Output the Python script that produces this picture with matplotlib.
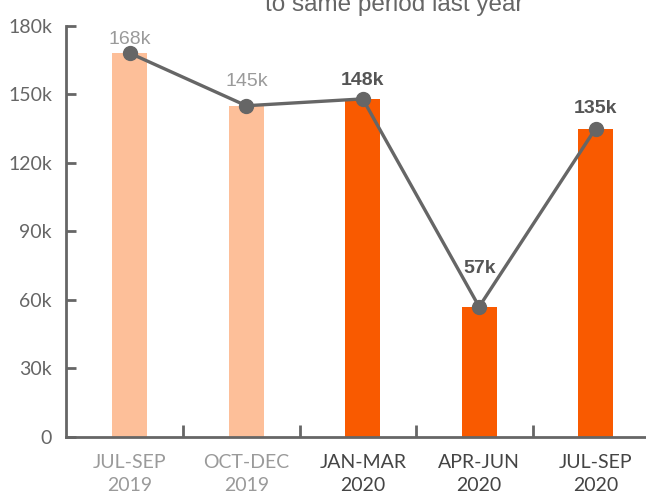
import matplotlib
matplotlib.use("Agg")
import matplotlib.pyplot as plt
import numpy as np

categories = ["JUL-SEP\n2019", "OCT-DEC\n2019", "JAN-MAR\n2020", "APR-JUN\n2020", "JUL-SEP\n2020"]
values = [168, 145, 148, 57, 135]  # thousands
labels = ["168k", "145k", "148k", "57k", "135k"]
y_ticks = [0, 30, 60, 90, 120, 150, 180]
y_tick_labels = ["0", "30k", "60k", "90k", "120k", "150k", "180k"]

bar_colors = ["#FDBF99", "#FDBF99", "#F95A00", "#F95A00", "#F95A00"]
label_colors = ["#9A9A9A", "#9A9A9A", "#555555", "#555555", "#555555"]
label_weights = ["normal", "normal", "bold", "bold", "bold"]
tick_colors = ["#9A9A9A", "#9A9A9A", "#444444", "#444444", "#444444"]
label_offsets = [6.5, 14.4, 10, 24.5, 11]

fig = plt.figure(figsize=(6.46, 4.96), dpi=100)
ax = fig.add_axes([0.102, 0.119, 0.910, 0.829])

x = np.arange(len(categories))
ax.bar(x, values, width=0.3, color=bar_colors, zorder=1)
ax.plot(x, values, color="#666666", lw=2.4, marker="o", markersize=10, zorder=3)

for xi, v, lab, c, w, off in zip(x, values, labels, label_colors, label_weights, label_offsets):
    ax.annotate(lab, (xi, v), xytext=(0, off), textcoords="offset points",
                ha="center", va="baseline", color=c, fontsize=14, fontweight=w,
                family="Liberation Sans")

ax.set_xlim(-0.55, 4.5)
ax.set_ylim(0, 180)
ax.set_yticks(y_ticks)
ax.set_yticklabels(y_tick_labels, family="Lato", fontsize=14, color="#666666")
ax.set_xticks(x)
ax.set_xticklabels(categories, family="Lato", fontsize=14, linespacing=1.45)
for t, c in zip(ax.get_xticklabels(), tick_colors):
    t.set_color(c)
ax.tick_params(axis="x", length=0, pad=12)
ax.set_xticks(np.arange(0.46, 4.46, 1), minor=True)
ax.tick_params(axis="x", which="minor", direction="in", length=9, width=2, color="#666666")
ax.tick_params(axis="y", direction="in", length=7, width=2, color="#666666", pad=10)

for s in ["top", "right"]:
    ax.spines[s].set_visible(False)
for s in ["left", "bottom"]:
    ax.spines[s].set_color("#666666")
    ax.spines[s].set_linewidth(2)

fig.text(0.61, 1 - 11 / 496, "to same period last year", ha="center",
         va="baseline", fontsize=17.5, color="#666666", family="Liberation Sans")

fig.savefig("out.png", dpi=100)
